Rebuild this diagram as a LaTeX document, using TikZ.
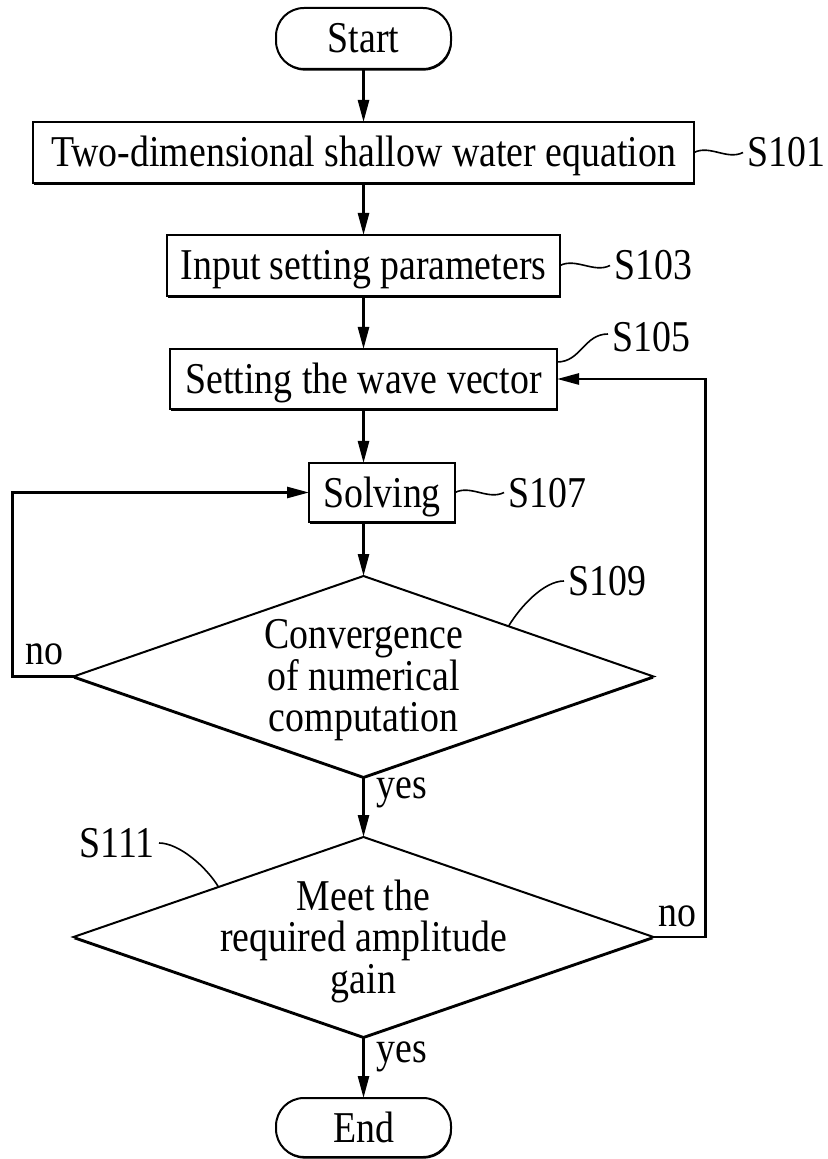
\documentclass[tikz,border=0pt]{standalone}
\usepackage{fontspec}
\setmainfont{Liberation Serif}[FakeStretch=0.86]
\usetikzlibrary{positioning,arrows.meta,shapes.geometric,shadows,calc}

\begin{document}
\begin{tikzpicture}[
      font=\fontsize{22pt}{20.75pt}\selectfont,
      box/.style={draw, fill=white, line width=1pt, minimum height=30.5pt,
                  text height=14.5pt, text depth=0pt, inner sep=0pt, outer sep=0pt,
                  general shadow={fill=black, shadow xshift=0.4pt, shadow yshift=-0.8pt}},
      term/.style={box, rounded corners=14pt, minimum width=87.5pt},
      test/.style={diamond, draw, fill=white, line width=1pt, inner sep=0pt, outer sep=0pt,
                   minimum width=290pt, minimum height=100.5pt,
                   general shadow={fill=black, shadow yshift=-1pt}},
      steplabel/.style={inner sep=2pt, text height=14.5pt, text depth=0pt},
      yesno/.style={inner sep=0pt},
      arr/.style={-{Triangle[length=11pt,width=5.5pt]}, line width=1.3pt},
      lead/.style={line width=0.8pt},
    ]
    \useasboundingbox (0,0) rectangle (413.5pt,-579.5pt);

    % ---------- main column ----------
    \node[term] (start) at (181.75pt,-19.25pt) {Start};
    \node[box, minimum width=330.5pt, below=26.5pt of start] (s101)
      {Two-dimensional shallow water equation};
    \node[box, minimum width=196.5pt, below=26pt of s101] (s103) {Input setting parameters};
    \node[box, minimum width=193.5pt, minimum height=30pt, below=26.5pt of s103] (s105)
      {Setting the wave vector};
    \node[box, minimum width=73pt, minimum height=29.5pt, below=27pt of s105, xshift=9.25pt] (solve)
      {Solving};
    \node[test, below=27pt of solve, xshift=-9.25pt,
          label={[align=center, yshift=-2pt]center:Convergence\\of numerical\\computation}] (conv) {};
    \node[test, minimum height=100pt, below=30pt of conv,
          label={[align=center, yshift=-2pt]center:Meet the\\required amplitude\\gain}] (gain) {};
    \node[term, minimum height=29.5pt, below=30.5pt of gain] (end) {End};

    \draw[arr] (start) -- (s101);
    \draw[arr] (s101) -- (s103);
    \draw[arr] (s103) -- (s105);
    \draw[arr] (s105.south) -- (s105.south |- solve.north);
    \draw[arr] (solve.south -| conv.north) -- (conv.north);
    \draw[arr] (conv) -- (gain);
    \draw[arr] (gain) -- (end);

    % ---------- feedback loops ----------
    \draw[arr] (conv.west) -- ++(-30.5pt,0pt) |- (solve.west);
    \draw[arr] (gain.east) -- ++(26pt,0pt) |- (s105.east);

    \node[yesno, above left=5.5pt and 5pt of conv.west] (no1) {no};
    \node[yesno, anchor=base west] (yes1) at ([shift={(6.5pt,-10.5pt)}]conv.south) {yes};
    \node[yesno, above right=5pt and 2.5pt of gain.east] (no2) {no};
    \node[yesno, anchor=base west] (yes2) at ([shift={(6.5pt,-12.5pt)}]gain.south) {yes};

    % ---------- step numbers ----------
    \node[steplabel, right=24.5pt of s101] (l101) {S101};
    \node[steplabel, right=25pt of s103] (l103) {S103};
    \node[steplabel, anchor=west] (l105) at ([shift={(25.5pt,5.75pt)}]s105.north east) {S105};
    \node[steplabel, right=24.5pt of solve] (l107) {S107};
    \node[steplabel, anchor=west] (l109) at ([shift={(100.25pt,-2.5pt)}]conv.north) {S109};
    \node[steplabel, anchor=east] (l111) at ([shift={(-102.25pt,-3pt)}]gain.north) {S111};

    \draw[lead] (s101.east) .. controls +(8pt,4pt) and +(-8pt,-4pt) .. (l101.west);
    \draw[lead] (s103.east) .. controls +(8pt,4pt) and +(-8pt,-4pt) .. (l103.west);
    \draw[lead] ([yshift=-6.5pt]s105.north east) .. controls +(12pt,0pt) and +(-12pt,0pt)
      .. ([yshift=1.75pt]l105.west);
    \draw[lead] (solve.east) .. controls +(8pt,4pt) and +(-8pt,-4pt) .. (l107.west);
    \draw[lead] ($(conv.north)!0.5!(conv.east)$) .. controls +(6pt,10pt) and +(-10pt,0pt)
      .. (l109.west);
    \draw[lead] (l111.east) .. controls +(10pt,0pt) and +(-6pt,10pt)
      .. ($(gain.north)!0.5!(gain.west)$);
  \end{tikzpicture}
\end{document}
